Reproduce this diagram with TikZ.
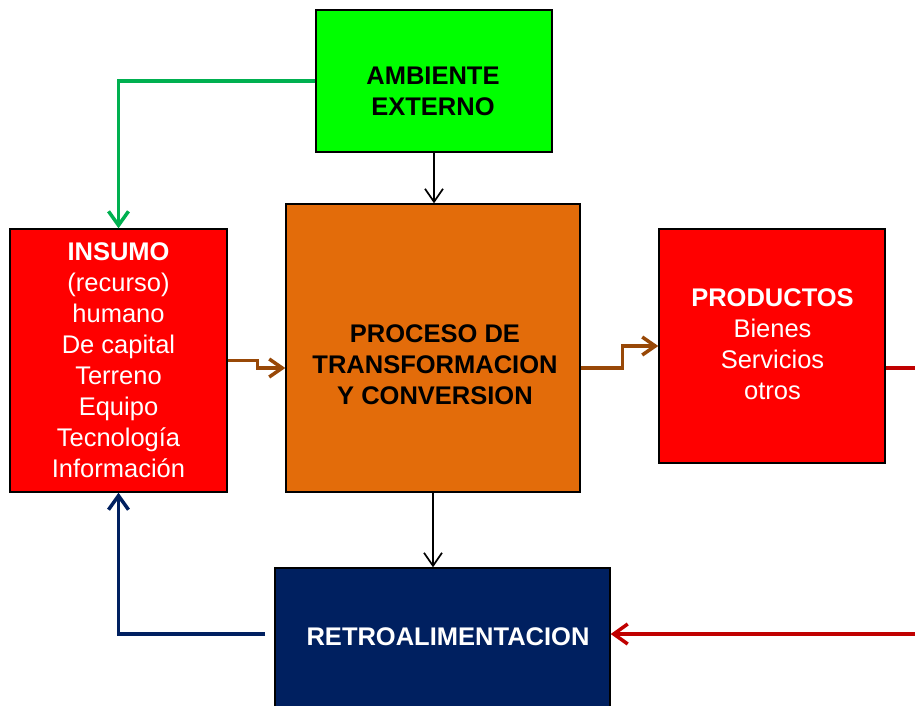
\documentclass[tikz,border=0pt]{standalone}
\usepackage{fontspec}
\setmainfont{Liberation Sans}
\usetikzlibrary{arrows.meta}

\definecolor{verdecaja}{HTML}{00FF00}
\definecolor{verdeflecha}{HTML}{00B050}
\definecolor{naranja}{HTML}{E36C0A}
\definecolor{rojo}{HTML}{FF0000}
\definecolor{rojoflecha}{HTML}{C00000}
\definecolor{marino}{HTML}{002060}
\definecolor{cafe}{HTML}{984807}

\tikzset{
	caja/.style={draw=black,line width=1.4pt,inner sep=0pt},
	texto/.style={align=center,font=\fontsize{25.5}{31}\selectfont},
	flecha/.style={line width=3.5pt,-{Straight Barb[length=14pt,width=20pt]}},
	flechita/.style={line width=1.7pt,black,-{Straight Barb[length=13pt,width=18pt]}}
}

\begin{document}
\begin{tikzpicture}[x=1pt,y=-1pt]
	\useasboundingbox (0,0) rectangle (915,706);
	
	\node[caja,fill=verdecaja,minimum width=236pt,minimum height=142pt] (ambiente) at (434,81) {};
	\node[texto,font=\fontsize{25.5}{31}\selectfont\bfseries] (ambientetxt) at (433,91) {
		AMBIENTE\\
		EXTERNO
	};
	
	\node[caja,fill=naranja,minimum width=294pt,minimum height=288pt] (proceso) at (433,348) {};
	\node[texto,font=\fontsize{25.5}{31}\selectfont\bfseries] (procesotxt) at (435,365) {
		PROCESO DE\\
		TRANSFORMACION\\
		Y CONVERSION
	};
	
	\node[caja,fill=rojo,text=white,texto,minimum width=217pt,minimum height=263pt] (insumo) at (118.5,360.5) {
		\textbf{INSUMO}\\
		(recurso)\\
		humano\\
		De capital\\
		Terreno\\
		Equipo\\
		Tecnología\\
		Información
	};
	
	\node[caja,fill=rojo,text=white,texto,minimum width=226pt,minimum height=234pt] (productos) at (772,346) {};
	\node[texto,text=white] (productostxt) at (772.5,344) {
		\textbf{PRODUCTOS}\\
		Bienes\\
		Servicios\\
		otros
	};
	
	\node[caja,fill=marino,minimum width=335pt,minimum height=142pt] (retro) at (442.5,639) {};
	\node[texto,text=white,font=\fontsize{25.5}{31}\selectfont\bfseries] (retrotxt) at (448,637) {RETROALIMENTACION};
	
	\coordinate (salida) at (915,368);
	\coordinate (entrada) at (915,634);
	\coordinate (regreso) at (265,634);
	
	\draw[flecha,verdeflecha] (ambiente.west) -| (insumo.north);
	\draw[flechita] (ambiente.south) -- (ambiente.south |- proceso.north);
	\draw[flechita] (proceso.south) -- (proceso.south |- retro.north);
	
	\draw[flecha,cafe,-{Straight Barb[length=13pt,width=18pt]}] (insumo.east) -- ++(30,0) |- ([yshift=-20pt]proceso.west);
	\draw[flecha,cafe,-{Straight Barb[length=13pt,width=18pt]}] ([yshift=-20pt]proceso.east) -- ++(42,0) |- (productos.west);
	
	\draw[line width=3.5pt,rojoflecha] (productos.east |- salida) -- (salida);
	\draw[flecha,rojoflecha] (entrada) -- (retro.east |- entrada);
	\draw[flecha,marino] (regreso) -| (insumo.south);
\end{tikzpicture}
\end{document}
